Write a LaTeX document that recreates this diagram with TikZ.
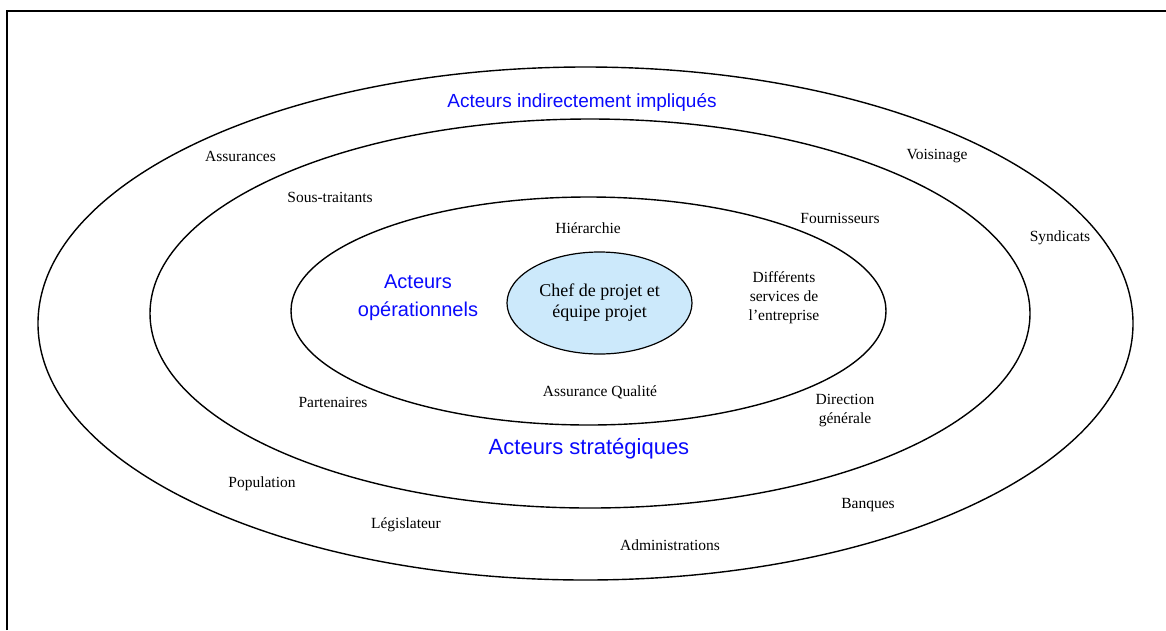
\documentclass[tikz,border=0pt]{standalone}
\usepackage{fontspec}
\usetikzlibrary{shapes.geometric}
\setmainfont{Liberation Serif}
\newfontfamily\labelsans{Liberation Sans}
\definecolor{ringblue}{RGB}{10,10,252}
\definecolor{corefill}{RGB}{204,233,251}
\begin{document}
\begin{tikzpicture}[x=1pt,y=-1pt,
  ring/.style={draw=black,line width=1.4pt},
  actor/.style={font=\fontsize{15.5}{19}\selectfont,align=center,inner sep=0pt},
  group/.style={font=\labelsans\fontsize{20}{28}\selectfont,text=ringblue,align=center,inner sep=0pt},
  frame/.style={draw=black,line width=2pt}]
\useasboundingbox (0,0) rectangle (1166,630);
\draw[frame] (7,630) -- (7,11) -- (1166,11);
% rings
\draw[ring] (585.5,323.5) ellipse [x radius=547.5, y radius=256.5];
\draw[ring] (590,313.5) ellipse [x radius=440, y radius=194.5];
\draw[ring] (588.5,311) ellipse [x radius=297.5, y radius=114];
\node[draw=black,line width=1.2pt,fill=corefill,ellipse,minimum width=185pt,minimum height=102pt,inner sep=0pt,
  font=\fontsize{18}{21}\selectfont,align=center] (core) at (599.5,303) {Chef de projet et\\équipe projet};
% group labels
\node[group,font=\labelsans\fontsize{19}{26}\selectfont] (gind) at (582,102) {Acteurs indirectement impliqués};
\node[group] (gop) at (418,298) {Acteurs\\opérationnels};
\node[group,font=\labelsans\fontsize{22}{28}\selectfont] (gstr) at (589,449) {Acteurs stratégiques};
% actors
\node[actor] (assur) at (240.5,156) {Assurances};
\node[actor] (sous) at (330,197) {Sous-traitants};
\node[actor] (vois) at (937,156) {Voisinage};
\node[actor] (hier) at (588,228) {Hiérarchie};
\node[actor] (four) at (840,218) {Fournisseurs};
\node[actor] (synd) at (1060,238) {Syndicats};
\node[actor] (serv) at (784,298) {Différents\\services de\\l’entreprise};
\node[actor] (aq) at (600,392) {Assurance Qualité};
\node[actor] (part) at (333,402) {Partenaires};
\node[actor] (dir) at (845,411) {Direction\\générale};
\node[actor] (pop) at (262,484) {Population};
\node[actor] (legis) at (406,525) {Législateur};
\node[actor] (banq) at (868,505) {Banques};
\node[actor] (admin) at (670,545) {Administrations};
\end{tikzpicture}
\end{document}
